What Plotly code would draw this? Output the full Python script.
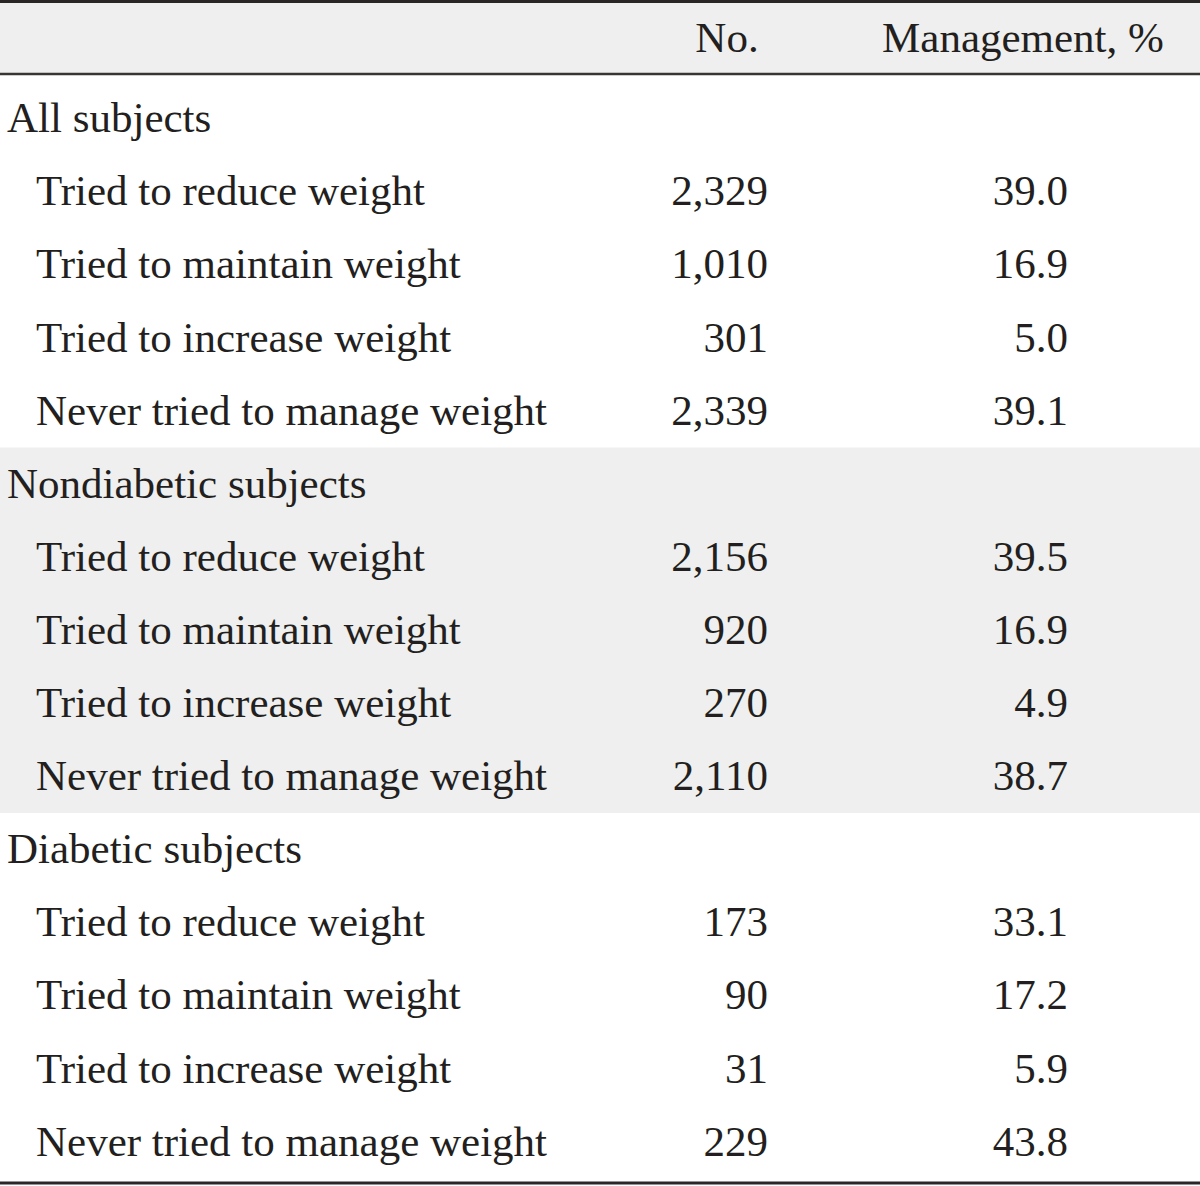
import plotly.graph_objects as go

# ---- data ----
header_labels = ["", "No.", "Management, %"]
groups = ["All subjects", "Nondiabetic subjects", "Diabetic subjects"]
categories = ["Tried to reduce weight", "Tried to maintain weight",
              "Tried to increase weight", "Never tried to manage weight"]
counts_all = ["2,329", "1,010", "301", "2,339"]
pct_all = ["39.0", "16.9", "5.0", "39.1"]
counts_nondiab = ["2,156", "920", "270", "2,110"]
pct_nondiab = ["39.5", "16.9", "4.9", "38.7"]
counts_diab = ["173", "90", "31", "229"]
pct_diab = ["33.1", "17.2", "5.9", "43.8"]

counts = [counts_all, counts_nondiab, counts_diab]
pcts = [pct_all, pct_nondiab, pct_diab]

# ---- layout constants ----
W, H = 1200, 1186
FONT = "Liberation Serif, Times New Roman, serif"
FS = 43
TXT = "#231f20"
GRAY = "#eeefee"
header_y = 41
row0 = 118.5
step = 73.1
text_dy = 3
x_group = 7
x_cat = 36
x_no = 768
x_pct = 1068

fig = go.Figure()

lab_x, lab_y, lab_t = [], [], []
num_y, num_t, pct_t = [], [], []
shade = []
r = 0
for gi, g in enumerate(groups):
    y = row0 + r * step
    lab_x.append(x_group); lab_y.append(y + text_dy); lab_t.append(g)
    gstart = y - step / 2
    r += 1
    for ci, c in enumerate(categories):
        y = row0 + r * step
        lab_x.append(x_cat); lab_y.append(y + text_dy); lab_t.append(c)
        num_y.append(y + text_dy); num_t.append(counts[gi][ci]); pct_t.append(pcts[gi][ci])
        r += 1
    gend = row0 + (r - 1) * step + step / 2
    shade.append((gstart, gend))

shapes = [
    dict(type="rect", xref="x", yref="y", x0=0, x1=W, y0=2, y1=74,
         fillcolor=GRAY, line=dict(width=0), layer="below"),
    dict(type="rect", xref="x", yref="y", x0=0, x1=W, y0=shade[1][0], y1=shade[1][1],
         fillcolor=GRAY, line=dict(width=0), layer="below"),
    dict(type="line", xref="x", yref="y", x0=0, x1=W, y0=1.5, y1=1.5,
         line=dict(color="#2b2626", width=3)),
    dict(type="line", xref="x", yref="y", x0=0, x1=W, y0=74, y1=74,
         line=dict(color="#3a3535", width=2.5)),
    dict(type="line", xref="x", yref="y", x0=0, x1=W, y0=1183, y1=1183,
         line=dict(color="#2b2626", width=3)),
]

font = dict(family=FONT, size=FS, color=TXT)

fig.add_trace(go.Scatter(x=lab_x, y=lab_y, text=lab_t, mode="text",
                         textposition="middle right", textfont=font,
                         hoverinfo="skip", showlegend=False))
fig.add_trace(go.Scatter(x=[x_no] * len(num_t), y=num_y, text=num_t, mode="text",
                         textposition="middle left", textfont=font,
                         hoverinfo="skip", showlegend=False))
fig.add_trace(go.Scatter(x=[x_pct] * len(pct_t), y=num_y, text=pct_t, mode="text",
                         textposition="middle left", textfont=font,
                         hoverinfo="skip", showlegend=False))
fig.add_trace(go.Scatter(x=[727, 1023], y=[header_y, header_y], text=header_labels[1:],
                         mode="text", textposition="middle center", textfont=font,
                         hoverinfo="skip", showlegend=False))

fig.update_layout(
    width=W, height=H,
    margin=dict(l=0, r=0, t=0, b=0),
    paper_bgcolor="white", plot_bgcolor="white",
    xaxis=dict(range=[0, W], visible=False, fixedrange=True),
    yaxis=dict(range=[H, 0], visible=False, fixedrange=True),
    shapes=shapes,
)

fig.write_html("out.html", config={"displayModeBar": False},
               post_script="document.body.style.margin='0';document.body.style.overflow='hidden';")
